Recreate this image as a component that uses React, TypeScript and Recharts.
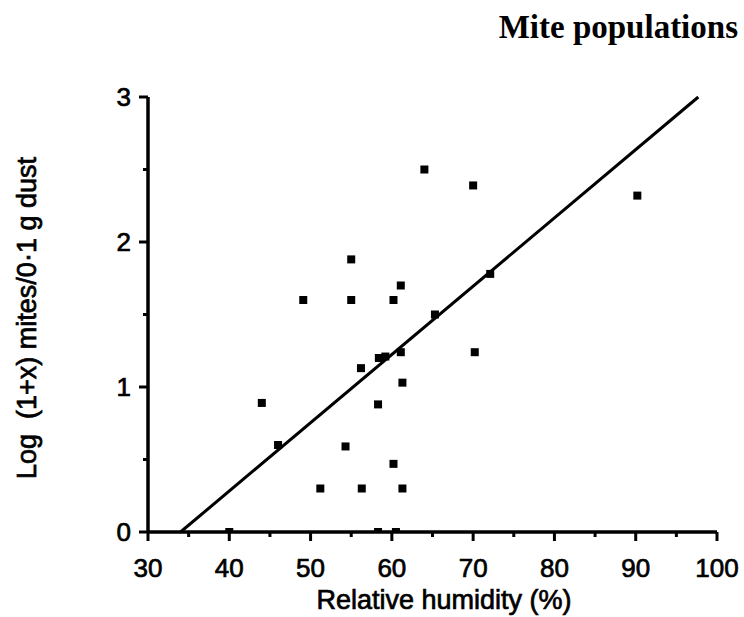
import { ScatterChart, Scatter, XAxis, YAxis, ReferenceLine } from 'recharts'

// Relative humidity (%) of each sampled house
const humidity = [
  64.0, 70.0, 90.2, 55.0, 72.1, 49.1, 55.0, 61.1, 60.2, 65.3, 58.4, 59.2, 61.1, 70.2,
  56.2, 61.3, 44.0, 46.0, 58.3, 54.3, 60.2, 51.2, 56.3, 61.3, 40.0, 58.3, 60.5,
]
// log(1+x) mites per 0.1 g dust
const mites = [
  2.5, 2.39, 2.32, 1.88, 1.78, 1.6, 1.6, 1.7, 1.6, 1.5, 1.2, 1.21, 1.24, 1.24,
  1.13, 1.03, 0.89, 0.6, 0.88, 0.59, 0.47, 0.3, 0.3, 0.3, 0, 0, 0,
]
const fitLine = [
  { x: 34, y: 0 },
  { x: 97.7, y: 3 },
]
const xTicks = [30, 35, 40, 45, 50, 55, 60, 65, 70, 75, 80, 85, 90, 95, 100]
const yTicks = [0, 0.5, 1, 1.5, 2, 2.5, 3]

const points = humidity.map((h, i) => ({ x: h, y: mites[i] }))

const ink = '#000'
const sans = '"Liberation Sans", Arial, Helvetica, sans-serif'
// the scan's type is heavier than a plain regular weight
const heavy = { stroke: ink, strokeWidth: 0.7 }

const axisText: any = {
  position: 'absolute',
  fontFamily: sans,
  fontSize: 27,
  lineHeight: '27px',
  color: ink,
  whiteSpace: 'pre',
  WebkitTextStroke: '0.7px #000',
}

function XTick(props: any) {
  const { x, y, payload } = props
  const major = payload.value % 10 === 0
  return (
    <g>
      <line x1={x} x2={x} y1={y} y2={y + (major ? 9 : 5)} stroke={ink} strokeWidth={3} />
      {major && (
        <text x={x} y={y + 45} textAnchor="middle" fontSize={26} fontFamily={sans} fill={ink} {...heavy}>
          {payload.value}
        </text>
      )}
    </g>
  )
}

function YTick(props: any) {
  const { x, y, payload } = props
  const major = Number.isInteger(payload.value)
  return (
    <g>
      <line x1={x} x2={x - (major ? 9 : 5)} y1={y} y2={y} stroke={ink} strokeWidth={3} />
      {major && (
        <text x={x - 17} y={y + 9} textAnchor="end" fontSize={26} fontFamily={sans} fill={ink} {...heavy}>
          {payload.value}
        </text>
      )}
    </g>
  )
}

function Square(props: any) {
  const { cx, cy } = props
  return <rect x={cx - 4} y={cy - 4} width={8} height={8} fill={ink} />
}

export default function App() {
  return (
    <div style={{ position: 'absolute', left: 0, top: 0, width: 744, height: 617, background: '#fff' }}>
      <ScatterChart width={744} height={617} margin={{ top: 97, right: 27, bottom: 25, left: 88 }}>
        <XAxis
          type="number"
          dataKey="x"
          domain={[30, 100]}
          ticks={xTicks}
          interval={0}
          height={60}
          tickSize={0}
          tickMargin={0}
          tick={<XTick />}
          axisLine={{ stroke: ink, strokeWidth: 3.5 }}
          allowDataOverflow
        />
        <YAxis
          type="number"
          dataKey="y"
          domain={[0, 3]}
          ticks={yTicks}
          interval={0}
          width={60}
          tickSize={0}
          tickMargin={0}
          tick={<YTick />}
          axisLine={{ stroke: ink, strokeWidth: 3.5 }}
          allowDataOverflow
        />
        <ReferenceLine segment={fitLine} stroke={ink} strokeWidth={3} ifOverflow="visible" />
        <Scatter data={points} shape={<Square />} isAnimationActive={false} />
      </ScatterChart>
      <div
        style={{
          position: 'absolute',
          right: 6,
          top: 11,
          fontFamily: '"Liberation Serif", "Times New Roman", serif',
          fontWeight: 'bold',
          fontSize: 33,
          lineHeight: '33px',
          color: ink,
        }}
      >
        Mite populations
      </div>
      <div style={{ ...axisText, left: 444, top: 587, transform: 'translateX(-50%)' }}>
        Relative humidity (%)
      </div>
      <div style={{ ...axisText, left: 27, top: 318, transform: 'translate(-50%, -50%) rotate(-90deg)' }}>
        {'Log  (1+x) mites/0·1 g dust'}
      </div>
    </div>
  )
}
